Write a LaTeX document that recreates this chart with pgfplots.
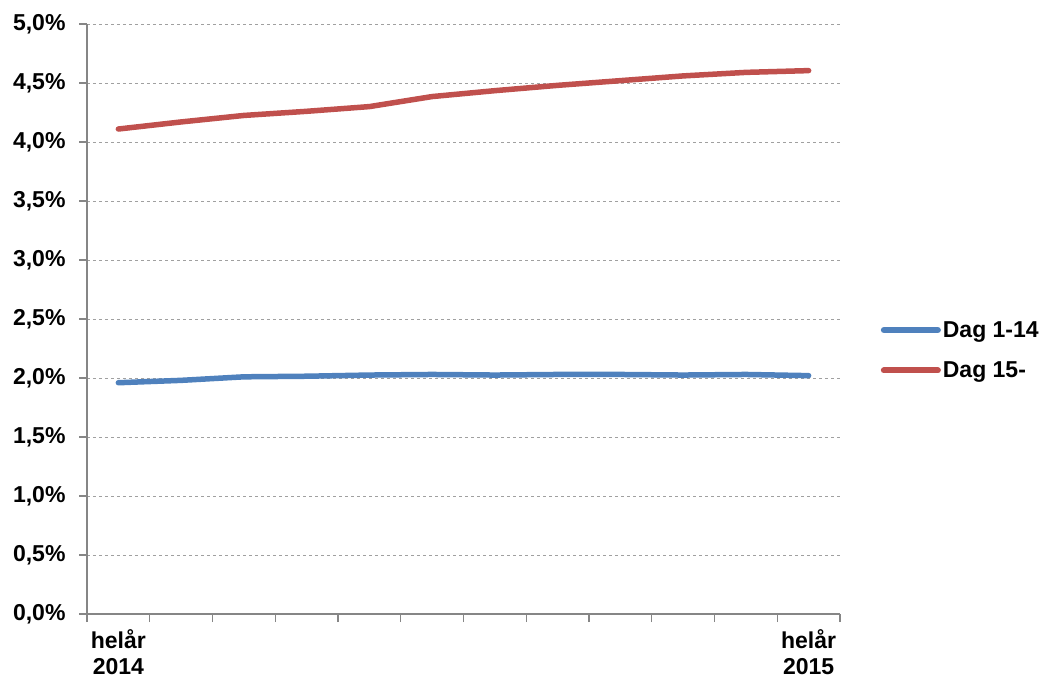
\documentclass[border=0pt]{standalone}
\usepackage{fontspec}
\setmainfont{Liberation Sans}
\usepackage{pgfplots}
\pgfplotsset{compat=1.18}
\definecolor{serblue}{RGB}{79,129,189}
\definecolor{serred}{RGB}{192,80,77}
\definecolor{axgray}{RGB}{134,134,134}
\definecolor{gridgray}{RGB}{160,160,160}

\begin{document}
\begin{tikzpicture}
\path[use as bounding box] (-87pt,-66pt) rectangle (954pt,614pt);
\begin{axis}[
    at={(0,0)}, anchor=south west,
    scale only axis,
    width=753pt, height=590pt,
    xmin=0.5, xmax=12.5,
    ymin=0, ymax=5,
    axis lines*=left,
    axis line style={axgray, line width=1.2pt},
    every tick/.style={axgray, line width=1.2pt},
    tick align=outside,
    major tick length=8pt,
    xtick={0.5,1.5,...,12.5},
    xticklabels={},
    extra x ticks={1,12},
    extra x tick labels={hel\aa r\\2014, hel\aa r\\2015},
    extra x tick style={major tick length=0pt, grid=none,
        tick label style={align=center, font=\bfseries\fontsize{23}{26}\selectfont, yshift=-12pt}},
    ytick={0,0.5,...,5},
    yticklabel={\pgfmathprintnumber[fixed,fixed zerofill,precision=1,use comma]{\tick}\%},
    /pgf/number format/assume math mode=true,
    yticklabel style={xshift=-10pt},
    tick label style={font=\bfseries\fontsize{23}{27}\selectfont},
    ymajorgrids,
    grid style={gridgray, dashed, line width=0.9pt},
    legend style={at={(1.05,0.447)}, anchor=west, draw=none, fill=none,
        font=\bfseries\fontsize{23}{27}\selectfont,
        row sep=19pt, cells={anchor=west}},
    legend image code/.code={\draw[#1, line width=6pt, line cap=round] (0pt,0pt) -- (54pt,0pt);},
    clip=false,
]
\addplot[serblue, line width=5.5pt, line cap=round, line join=round] coordinates {
    (1,1.96) (2,1.98) (3,2.01) (4,2.015) (5,2.025) (6,2.03)
    (7,2.025) (8,2.03) (9,2.03) (10,2.025) (11,2.03) (12,2.02)
};
\addplot[serred, line width=5.5pt, line cap=round, line join=round] coordinates {
    (1,4.11) (2,4.17) (3,4.225) (4,4.26) (5,4.30) (6,4.385)
    (7,4.435) (8,4.48) (9,4.52) (10,4.56) (11,4.59) (12,4.605)
};
\legend{Dag 1-14, Dag 15-}
\end{axis}
\end{tikzpicture}
\end{document}
